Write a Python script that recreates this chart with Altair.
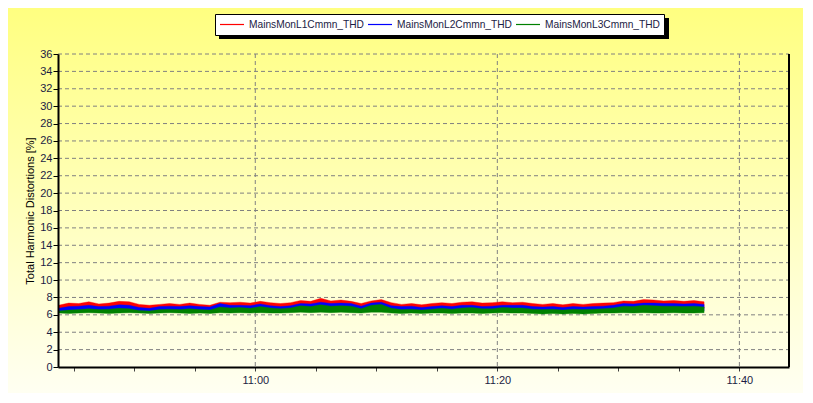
import altair as alt
import pandas as pd

series_names = ["MainsMonL1Cmmn_THD", "MainsMonL2Cmmn_THD", "MainsMonL3Cmmn_THD"]
series_colors = ["#ff0000", "#0000ff", "#008000"]

sample_start = "10:43:45"
sample_step_s = 50

l1_max = [7.1, 7.35, 7.3, 7.5, 7.25, 7.35, 7.55, 7.5, 7.2, 7.1,
          7.2, 7.3, 7.2, 7.35, 7.2, 7.1, 7.45, 7.4, 7.45, 7.35,
          7.55, 7.4, 7.3, 7.4, 7.65, 7.55, 7.9, 7.6, 7.7, 7.55,
          7.3, 7.6, 7.75, 7.4, 7.2, 7.3, 7.15, 7.3, 7.4, 7.3,
          7.45, 7.5, 7.35, 7.4, 7.5, 7.4, 7.45, 7.3, 7.2, 7.3,
          7.15, 7.3, 7.2, 7.3, 7.35, 7.4, 7.6, 7.55, 7.75, 7.7,
          7.6, 7.65, 7.55, 7.65, 7.5]
l1_min = [6.6, 6.7, 6.7, 6.75, 6.65, 6.7, 6.75, 6.7, 6.65, 6.6,
          6.7, 6.7, 6.65, 6.7, 6.65, 6.6, 6.75, 6.7, 6.7, 6.7,
          6.75, 6.7, 6.65, 6.7, 6.8, 6.75, 6.85, 6.8, 6.8, 6.75,
          6.7, 6.8, 6.85, 6.7, 6.65, 6.7, 6.6, 6.65, 6.7, 6.65,
          6.7, 6.75, 6.65, 6.7, 6.75, 6.7, 6.7, 6.65, 6.6, 6.65,
          6.6, 6.65, 6.6, 6.65, 6.7, 6.75, 6.8, 6.8, 6.85, 6.85,
          6.8, 6.8, 6.75, 6.8, 6.75]
l2_max = [6.75, 6.95, 7.0, 7.1, 6.95, 7.0, 7.15, 7.1, 6.85, 6.75,
          6.95, 7.0, 6.95, 7.05, 6.95, 6.9, 7.3, 7.1, 7.1, 7.05,
          7.25, 7.05, 6.95, 7.05, 7.3, 7.25, 7.45, 7.3, 7.35, 7.3,
          7.0, 7.35, 7.45, 7.05, 6.95, 7.0, 6.85, 6.95, 7.05, 6.95,
          7.1, 7.1, 6.95, 7.0, 7.1, 7.1, 7.1, 6.95, 6.9, 6.95,
          6.85, 6.95, 6.9, 6.95, 7.0, 7.1, 7.3, 7.25, 7.35, 7.35,
          7.3, 7.3, 7.25, 7.3, 7.2]
l2_min = [6.3, 6.35, 6.35, 6.4, 6.35, 6.35, 6.4, 6.4, 6.3, 6.3,
          6.35, 6.35, 6.35, 6.4, 6.35, 6.3, 6.45, 6.4, 6.4, 6.4,
          6.45, 6.4, 6.35, 6.4, 6.5, 6.45, 6.55, 6.5, 6.5, 6.5,
          6.4, 6.5, 6.55, 6.4, 6.35, 6.35, 6.3, 6.35, 6.4, 6.35,
          6.4, 6.45, 6.35, 6.35, 6.45, 6.4, 6.4, 6.35, 6.3, 6.35,
          6.3, 6.35, 6.3, 6.35, 6.35, 6.4, 6.5, 6.45, 6.55, 6.5,
          6.5, 6.5, 6.45, 6.5, 6.45]
l3_max = [6.45, 6.55, 6.6, 6.7, 6.6, 6.65, 6.75, 6.7, 6.5, 6.45,
          6.6, 6.65, 6.6, 6.7, 6.6, 6.55, 6.9, 6.8, 6.85, 6.75,
          6.95, 6.8, 6.7, 6.8, 7.05, 6.95, 7.15, 7.0, 7.05, 7.0,
          6.7, 7.1, 7.2, 6.75, 6.6, 6.65, 6.55, 6.65, 6.75, 6.65,
          6.8, 6.85, 6.7, 6.7, 6.85, 6.8, 6.8, 6.65, 6.6, 6.65,
          6.55, 6.65, 6.6, 6.65, 6.7, 6.8, 7.0, 6.95, 7.1, 7.05,
          7.0, 7.0, 6.95, 7.0, 6.9]
l3_min = [6.2, 6.15, 6.2, 6.25, 6.2, 6.15, 6.2, 6.25, 6.2, 6.15,
          6.2, 6.25, 6.2, 6.15, 6.2, 6.15, 6.25, 6.2, 6.25, 6.2,
          6.25, 6.2, 6.2, 6.25, 6.3, 6.25, 6.3, 6.25, 6.3, 6.25,
          6.2, 6.3, 6.3, 6.2, 6.15, 6.2, 6.15, 6.2, 6.2, 6.15,
          6.2, 6.2, 6.15, 6.2, 6.25, 6.2, 6.2, 6.15, 6.1, 6.15,
          6.1, 6.15, 6.1, 6.15, 6.2, 6.2, 6.25, 6.2, 6.25, 6.2,
          6.2, 6.25, 6.2, 6.2, 6.25]

# axis ticks (minutes since midnight)
y_ticks = list(range(0, 38, 2))
x_ticks = [645, 650, 655, 660, 665, 670, 675, 680, 685, 690, 695, 700]
x_grid = [660, 680, 700]
x_domain = [643.7, 704.1]
y_domain = [0, 36]

W, H = 731, 313
FONT = "Liberation Sans"
TXT = "#1c1c44"


def to_min(s):
    h, m, sec = (int(p) for p in s.split(":"))
    return h * 60 + m + sec / 60


t0 = to_min(sample_start)
times = [t0 + i * sample_step_s / 60 for i in range(len(l1_max))]

rows = []
for name, hi, lo in zip(series_names, [l1_max, l2_max, l3_max], [l1_min, l2_min, l3_min]):
    for t, a, b in zip(times, hi, lo):
        rows.append({"t": t, "hi": a, "lo": b, "series": name})
df = pd.DataFrame(rows)

xs = alt.Scale(domain=x_domain, nice=False, zero=False)
ys = alt.Scale(domain=y_domain, nice=False, zero=False)
cs = alt.Scale(domain=series_names, range=series_colors)

x_axis = alt.Axis(
    values=x_ticks, grid=False, title=None,
    labelExpr="datum.value % 20 == 0 ? floor(datum.value / 60) + ':' + (datum.value % 60 < 10 ? '0' : '') + (datum.value % 60) : ''",
    tickSize=4, tickColor="#404040", domainColor="black", domainWidth=2,
    labelFont=FONT, labelFontSize=11, labelColor=TXT, labelPadding=3,
    labelFlush=False, labelOverlap=False, zindex=1,
)
y_axis = alt.Axis(
    values=y_ticks, grid=False, title="Total Harmonic Distortions [%]",
    tickSize=5, tickColor="black", domainColor="black", domainWidth=2,
    labelFont=FONT, labelFontSize=11, labelColor=TXT, labelPadding=1,
    titleFont=FONT, titleFontSize=11, titleFontWeight="normal", titleColor="black",
    titlePadding=4, labelOverlap=False, zindex=1,
)

one = alt.Data(values=[{"k": 0}])

bg = alt.Chart(one).mark_rect(
    color=alt.LinearGradient(
        gradient="linear",
        stops=[alt.GradientStop(color="#ffff80", offset=0),
               alt.GradientStop(color="#fffff2", offset=1)],
        x1=0, x2=0, y1=0, y2=1),
).encode(x=alt.value(-50), x2=alt.value(W + 14), y=alt.value(-46), y2=alt.value(H + 26))

hgrid = alt.Chart(pd.DataFrame({"t": [x_domain[0]] * (len(y_ticks) - 1), "hi": y_ticks[1:]})).mark_rule(
    color="#808080", strokeDash=[4, 3], strokeWidth=1
).encode(y=alt.Y("hi:Q", scale=ys, axis=y_axis), x=alt.value(0), x2=alt.value(W))

vgrid = alt.Chart(pd.DataFrame({"t": x_grid})).mark_rule(
    color="#808080", strokeDash=[4, 3], strokeWidth=1
).encode(x=alt.X("t:Q", scale=xs, axis=x_axis), y=alt.value(0), y2=alt.value(H))

legend = alt.Legend(
    orient="none", legendX=157, legendY=-40, direction="horizontal", title=None,
    fillColor="white", strokeColor="black", padding=4, clipHeight=13,
    symbolType="stroke", symbolSize=576, symbolStrokeWidth=1.2,
    labelFont=FONT, labelFontSize=10.2, labelColor=TXT,
    columnPadding=3, labelOffset=4,
)

layers = []
for name in series_names:
    layers.append(
        alt.Chart(df).transform_filter(alt.datum.series == name).mark_area(
            strokeWidth=0.4, opacity=1
        ).encode(
            x=alt.X("t:Q", scale=xs, axis=x_axis),
            y=alt.Y("hi:Q", scale=ys, axis=y_axis, stack=None),
            y2="lo:Q",
            color=alt.Color("series:N", scale=cs, legend=legend),
            stroke=alt.Stroke("series:N", scale=cs, legend=legend),
        )
    )

right_border = alt.Chart(one).mark_rule(color="black", strokeWidth=2).encode(
    x=alt.value(W), y=alt.value(0), y2=alt.value(H)
)
shadow = alt.Chart(one).mark_rect(color="black").encode(
    x=alt.value(161), x2=alt.value(611), y=alt.value(-36), y2=alt.value(-15)
)

chart = alt.layer(bg, hgrid, vgrid, *layers, right_border, shadow).properties(
    width=W, height=H,
    padding={"left": 50, "top": 46, "right": 14, "bottom": 26},
    autosize=alt.AutoSizeParams(type="none"),
    background="#fffff2",
).configure_view(stroke=None).configure(font=FONT)

chart.save("out.html", embed_options={"renderer": "svg", "actions": False})
